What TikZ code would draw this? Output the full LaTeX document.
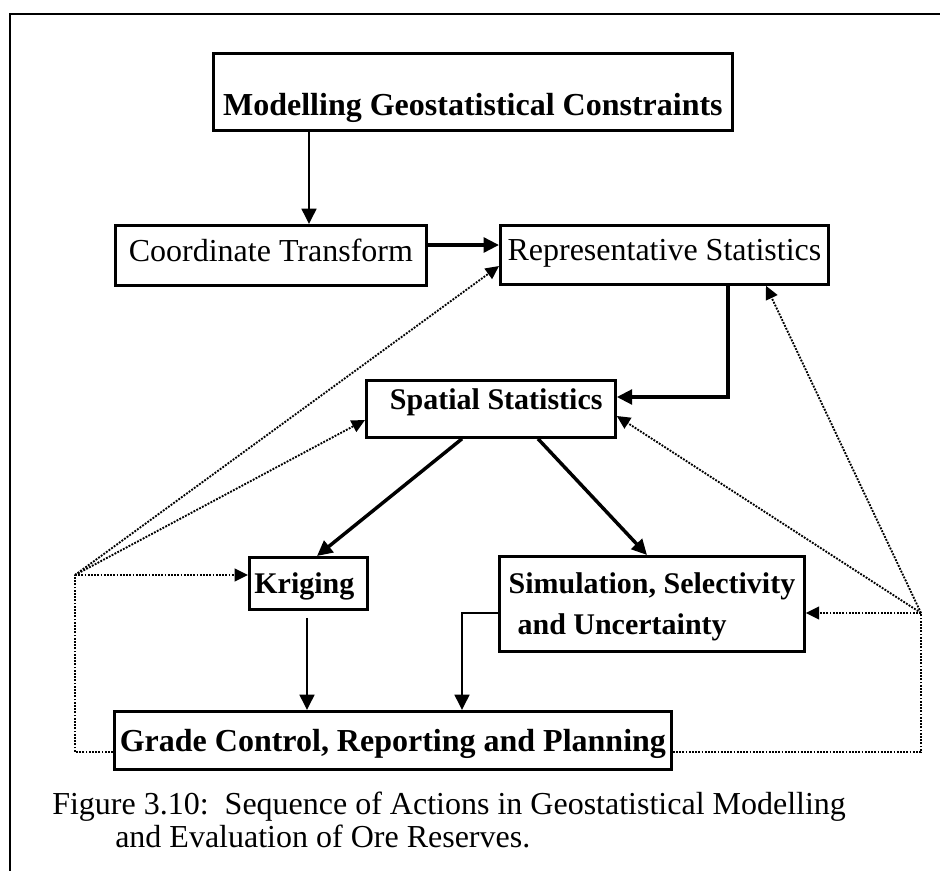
\documentclass[tikz,border=0pt]{standalone}
\usepackage{fontspec}
\setmainfont{Liberation Serif}
\usetikzlibrary{arrows.meta,calc}

\begin{document}
\begin{tikzpicture}[x=0.75pt,y=-0.75pt,
  box/.style={draw,line width=2.1pt,anchor=north west,inner sep=0pt,align=center},
  big/.style={font=\fontsize{24}{28}\selectfont},
  bigbold/.style={font=\fontsize{24}{28}\selectfont\bfseries},
  midbold/.style={font=\fontsize{22.5}{30.75}\selectfont\bfseries},
  arr/.style={line width=1.9pt,-{Triangle[length=11.5pt,width=11pt]}},
  arrthick/.style={line width=2.6pt,-{Triangle[length=11.5pt,width=11pt]}},
  dotline/.style={line width=1.4pt,dash pattern=on 1.4pt off 1pt},
  dotarr/.style={dotline,-{Triangle[length=10pt,width=9.5pt]}}]

\useasboundingbox (0,0) rectangle (940,871);

% page frame
\draw[line width=2.1pt] (10,871) -- (10,14) -- (940,14);

% process boxes
\node[box,bigbold,minimum width=389.25pt,minimum height=57.75pt,
      text height=46.5pt,text depth=11.25pt] (mod) at (212,52)
      {Modelling Geostatistical Constraints};
\node[box,big,minimum width=233.25pt,minimum height=45pt,
      text height=27pt,text depth=18pt] (ct) at (114,224)
      {Coordinate Transform};
\node[box,big,minimum width=246pt,minimum height=44.25pt,
      text height=26.25pt,text depth=18pt] (rep) at (499,224)
      {Representative Statistics};
\node[box,midbold,minimum width=186.75pt,minimum height=42.75pt,
      text height=21.75pt,text depth=21pt] (sp) at (365,379)
      {\hspace{8pt}Spatial Statistics};
\node[box,midbold,minimum width=88.5pt,minimum height=39pt,
      text height=27pt,text depth=12pt] (kr) at (248,556)
      {Kriging\hspace{6pt}};
% two-line box: baseline of the node is that of its last line
\node[box,midbold,align=left,minimum width=228.75pt,
      minimum height=71.25pt,text height=58.5pt,text depth=12.75pt] (sim) at (498,555)
      {Simulation, Selectivity\\\hspace{6.75pt}and Uncertainty};
\node[box,bigbold,minimum width=417.75pt,minimum height=43.5pt,
      text height=30pt,text depth=13.5pt] (gr) at (113,710)
      {Grade Control, Reporting and Planning};

% caption
\node[big,anchor=base west,inner sep=0pt] (cap1) at (52,814)
      {Figure 3.10:\ \ Sequence of Actions in Geostatistical Modelling};
\node[big,anchor=base west,inner sep=0pt] (cap2) at (115,847)
      {and Evaluation of Ore Reserves.};

% main flow
\draw[arr] (309,0 |- mod.south) -- (309,0 |- ct.north);
\draw[arrthick] (ct.east |- 0,245) -- (rep.west |- 0,245);
\draw[arrthick] (728,0 |- rep.south) -- (728,397) -- (sp.east |- 0,397);
\draw[arrthick] (462,0 |- sp.south) -- (317,0 |- kr.north);
\draw[arrthick] (538,0 |- sp.south) -- (647,0 |- sim.north);
\draw[arr] ($(307,0 |- kr.south)+(0,7)$) -- (307,0 |- gr.north);
\draw[arr] (sim.west |- 0,613) -- (462,613) -- (462,0 |- gr.north);

% feedback hubs
\coordinate (hl) at (75,575);
\coordinate (hr) at (921,613);
\coordinate (bl) at (75,752);
\coordinate (br) at (921,752);

% feedback from the left
\draw[dotline] (gr.west |- bl) -- (bl) -- (hl);
\draw[dotarr] (hl) -- (rep.west |- 0,266);
\draw[dotarr] (hl) -- (sp.west |- 0,420);
\draw[dotarr] (hl) -- (kr.west |- hl);

% feedback from the right
\draw[dotline] (gr.east |- br) -- (br) -- (hr);
\draw[dotarr] (hr) -- (766,0 |- rep.south);
\draw[dotarr] (hr) -- (sp.east |- 0,416);
\draw[dotarr] (hr) -- (sim.east |- hr);

\end{tikzpicture}
\end{document}
